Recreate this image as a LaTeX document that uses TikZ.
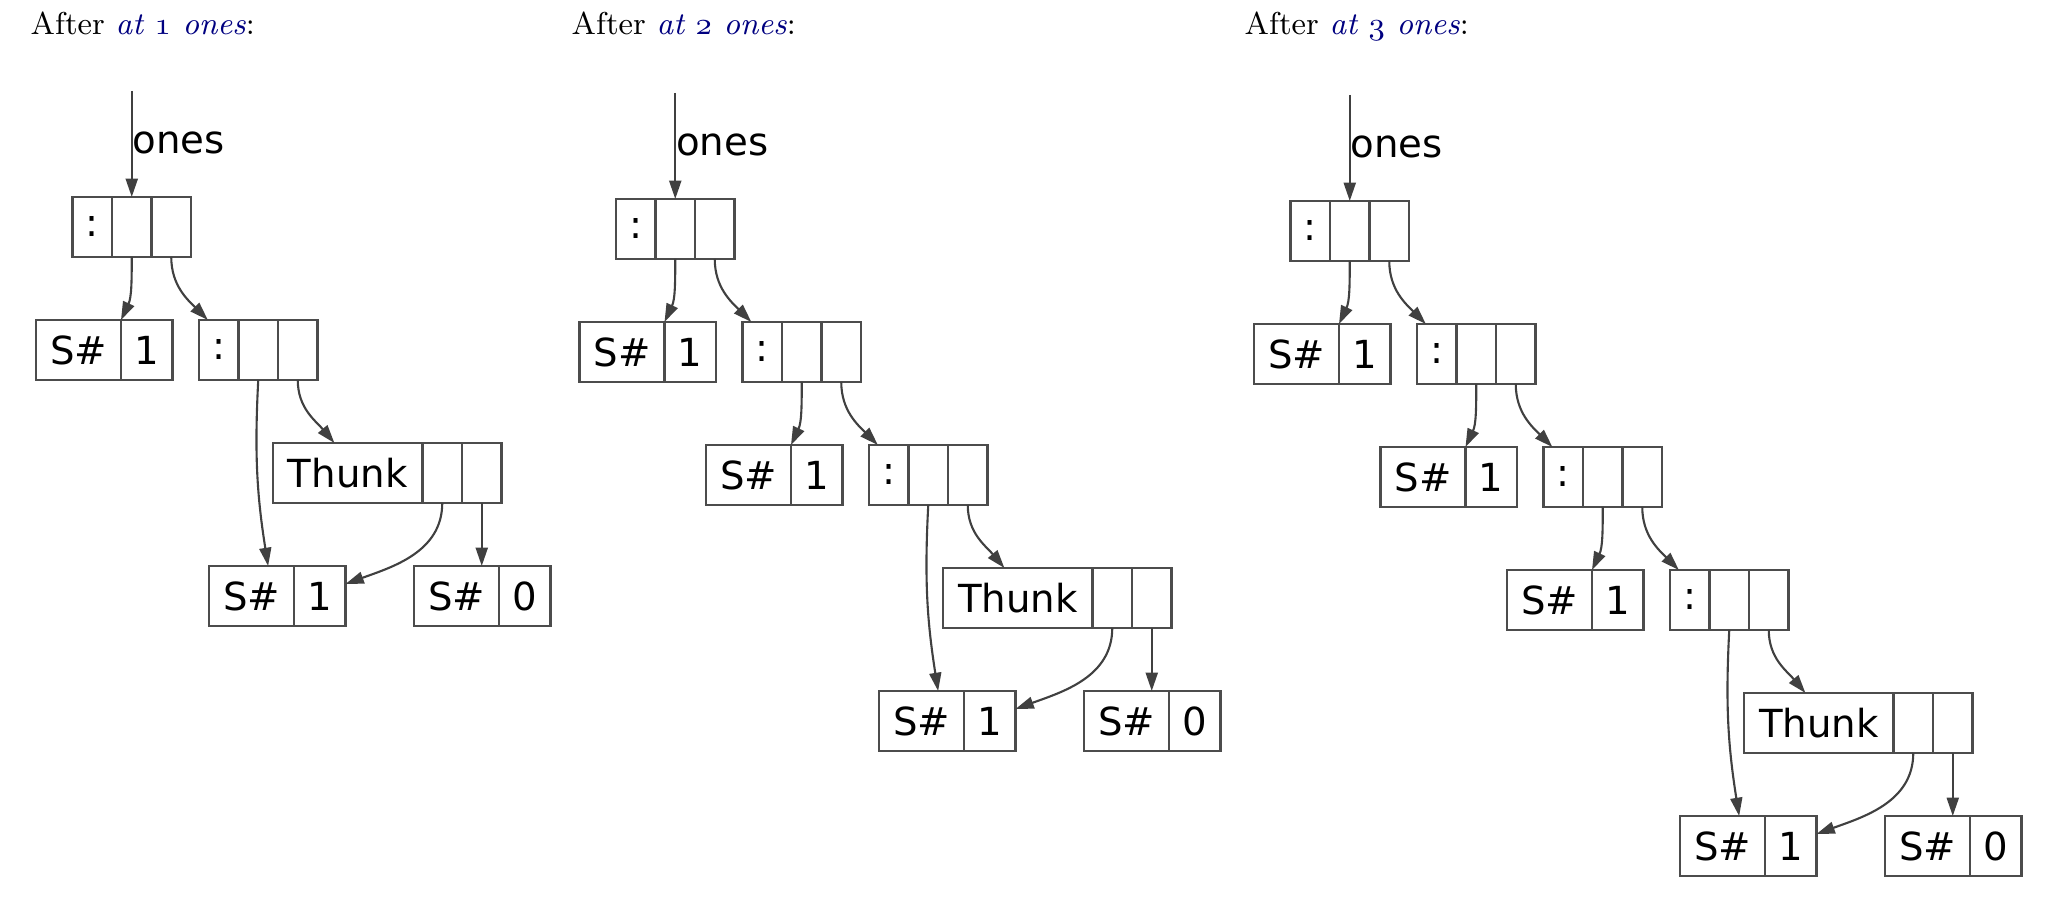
\documentclass[tikz,border=0pt]{standalone}
\usepackage{fontspec}
\newfontfamily\recfont{DejaVu Sans}
\usetikzlibrary{positioning,arrows.meta}
\definecolor{enlace}{RGB}{0,0,128}

% cifras antiguas (de cmmi)
\newcommand{\osnum}[1]{{\usefont{OML}{cmm}{m}{it}#1}}
% registro (:) con cabeza y cola
\newcommand{\consrec}[2]{%
    \node[slot,anchor=north west] (#1c) at (#2) {:};
    \node[slot,right=0pt of #1c] (#1h) {};
    \node[slot,right=0pt of #1h] (#1t) {};}
% entero en caja (S#)
\newcommand{\intrec}[3]{%
    \node[tag,anchor=north west] (#1s) at (#2) {S\#};
    \node[val,right=0pt of #1s] (#1v) {#3};}
% thunk sin evaluar
\newcommand{\thunkrec}[2]{%
    \node[thunkcell,anchor=north west] (#1k) at (#2) {Thunk};
    \node[slot,right=0pt of #1k] (#1a) {};
    \node[slot,right=0pt of #1a] (#1b) {};}

\begin{document}
\begin{tikzpicture}[
    x=1cm,
    y=1cm,
    >={Triangle[length=5.2pt,width=3.4pt]},
    cell/.style={draw=black!70,line width=0.6pt,minimum height=0.6cm,
        inner sep=0pt,outer sep=0pt,font=\recfont\fontsize{11}{13}\selectfont},
    slot/.style={cell,minimum width=0.395cm},
    tag/.style={cell,minimum width=0.85cm},
    val/.style={cell,minimum width=0.515cm},
    thunkcell/.style={cell,minimum width=1.495cm},
    ptr/.style={->,draw=black!75,line width=0.6pt},
    lbl/.style={anchor=base west,inner sep=0pt,font=\recfont\fontsize{11}{13}\selectfont},
    titulo/.style={anchor=base west,inner sep=0pt,font=\fontsize{9}{10}\selectfont}
]
    \useasboundingbox (0,0) rectangle (20.5,-9.1);

    % Tras at 1 ones
    \node[titulo] (p1tit) at (0.30,-0.35)
        {After \textcolor{enlace}{\textit{at \osnum{1} ones}}:};
    \consrec{p1c1}{0.725,-1.97}
    \consrec{p1c2}{1.99,-3.20}
    \intrec{p1i1}{0.36,-3.20}{1}
    \thunkrec{p1th}{2.73,-4.43}
    \intrec{p1i2}{2.09,-5.66}{1}
    \intrec{p1z}{4.14,-5.66}{0}
    \coordinate[above=1.06cm of p1c1h] (p1in);
    \draw[ptr] (p1in) -- node[lbl,pos=0.585] {ones} (p1c1h.north);
    \draw[ptr] (p1c1h.south) to[out=-90,in=65] (p1i1s.north east);
    \draw[ptr] (p1c1t.south) to[out=-90,in=135] (p1c2c.110);
    \draw[ptr] (p1c2h.south) to[out=-93,in=99] (p1i2s.61);
    \draw[ptr] (p1c2t.south) to[out=-90,in=130] (p1thk.114);
    \draw[ptr] (p1tha.south) to[out=-90,in=20] (p1i2v.25);
    \draw[ptr] (p1thb.south) -- (p1thb.south |- p1zs.north);

    % Tras at 2 ones
    \node[titulo] (p2tit) at (5.71,-0.35)
        {After \textcolor{enlace}{\textit{at \osnum{2} ones}}:};
    \consrec{p2c1}{6.16,-1.99}
    \consrec{p2c2}{7.425,-3.22}
    \consrec{p2c3}{8.69,-4.45}
    \intrec{p2i1}{5.795,-3.22}{1}
    \intrec{p2i2}{7.06,-4.45}{1}
    \thunkrec{p2th}{9.43,-5.68}
    \intrec{p2i3}{8.79,-6.91}{1}
    \intrec{p2z}{10.84,-6.91}{0}
    \coordinate[above=1.06cm of p2c1h] (p2in);
    \draw[ptr] (p2in) -- node[lbl,pos=0.585] {ones} (p2c1h.north);
    \draw[ptr] (p2c1h.south) to[out=-90,in=65] (p2i1s.north east);
    \draw[ptr] (p2c1t.south) to[out=-90,in=135] (p2c2c.110);
    \draw[ptr] (p2c2h.south) to[out=-90,in=65] (p2i2s.north east);
    \draw[ptr] (p2c2t.south) to[out=-90,in=135] (p2c3c.110);
    \draw[ptr] (p2c3h.south) to[out=-93,in=99] (p2i3s.61);
    \draw[ptr] (p2c3t.south) to[out=-90,in=130] (p2thk.114);
    \draw[ptr] (p2tha.south) to[out=-90,in=20] (p2i3v.25);
    \draw[ptr] (p2thb.south) -- (p2thb.south |- p2zs.north);

    % Tras at 3 ones
    \node[titulo] (p3tit) at (12.44,-0.35)
        {After \textcolor{enlace}{\textit{at \osnum{3} ones}}:};
    \consrec{p3c1}{12.905,-2.01}
    \consrec{p3c2}{14.17,-3.24}
    \consrec{p3c3}{15.435,-4.47}
    \consrec{p3c4}{16.70,-5.70}
    \intrec{p3i1}{12.54,-3.24}{1}
    \intrec{p3i2}{13.805,-4.47}{1}
    \intrec{p3i3}{15.07,-5.70}{1}
    \thunkrec{p3th}{17.44,-6.93}
    \intrec{p3i4}{16.80,-8.16}{1}
    \intrec{p3z}{18.85,-8.16}{0}
    \coordinate[above=1.06cm of p3c1h] (p3in);
    \draw[ptr] (p3in) -- node[lbl,pos=0.585] {ones} (p3c1h.north);
    \draw[ptr] (p3c1h.south) to[out=-90,in=65] (p3i1s.north east);
    \draw[ptr] (p3c1t.south) to[out=-90,in=135] (p3c2c.110);
    \draw[ptr] (p3c2h.south) to[out=-90,in=65] (p3i2s.north east);
    \draw[ptr] (p3c2t.south) to[out=-90,in=135] (p3c3c.110);
    \draw[ptr] (p3c3h.south) to[out=-90,in=65] (p3i3s.north east);
    \draw[ptr] (p3c3t.south) to[out=-90,in=135] (p3c4c.110);
    \draw[ptr] (p3c4h.south) to[out=-93,in=99] (p3i4s.61);
    \draw[ptr] (p3c4t.south) to[out=-90,in=130] (p3thk.114);
    \draw[ptr] (p3tha.south) to[out=-90,in=20] (p3i4v.25);
    \draw[ptr] (p3thb.south) -- (p3thb.south |- p3zs.north);
\end{tikzpicture}
\end{document}
